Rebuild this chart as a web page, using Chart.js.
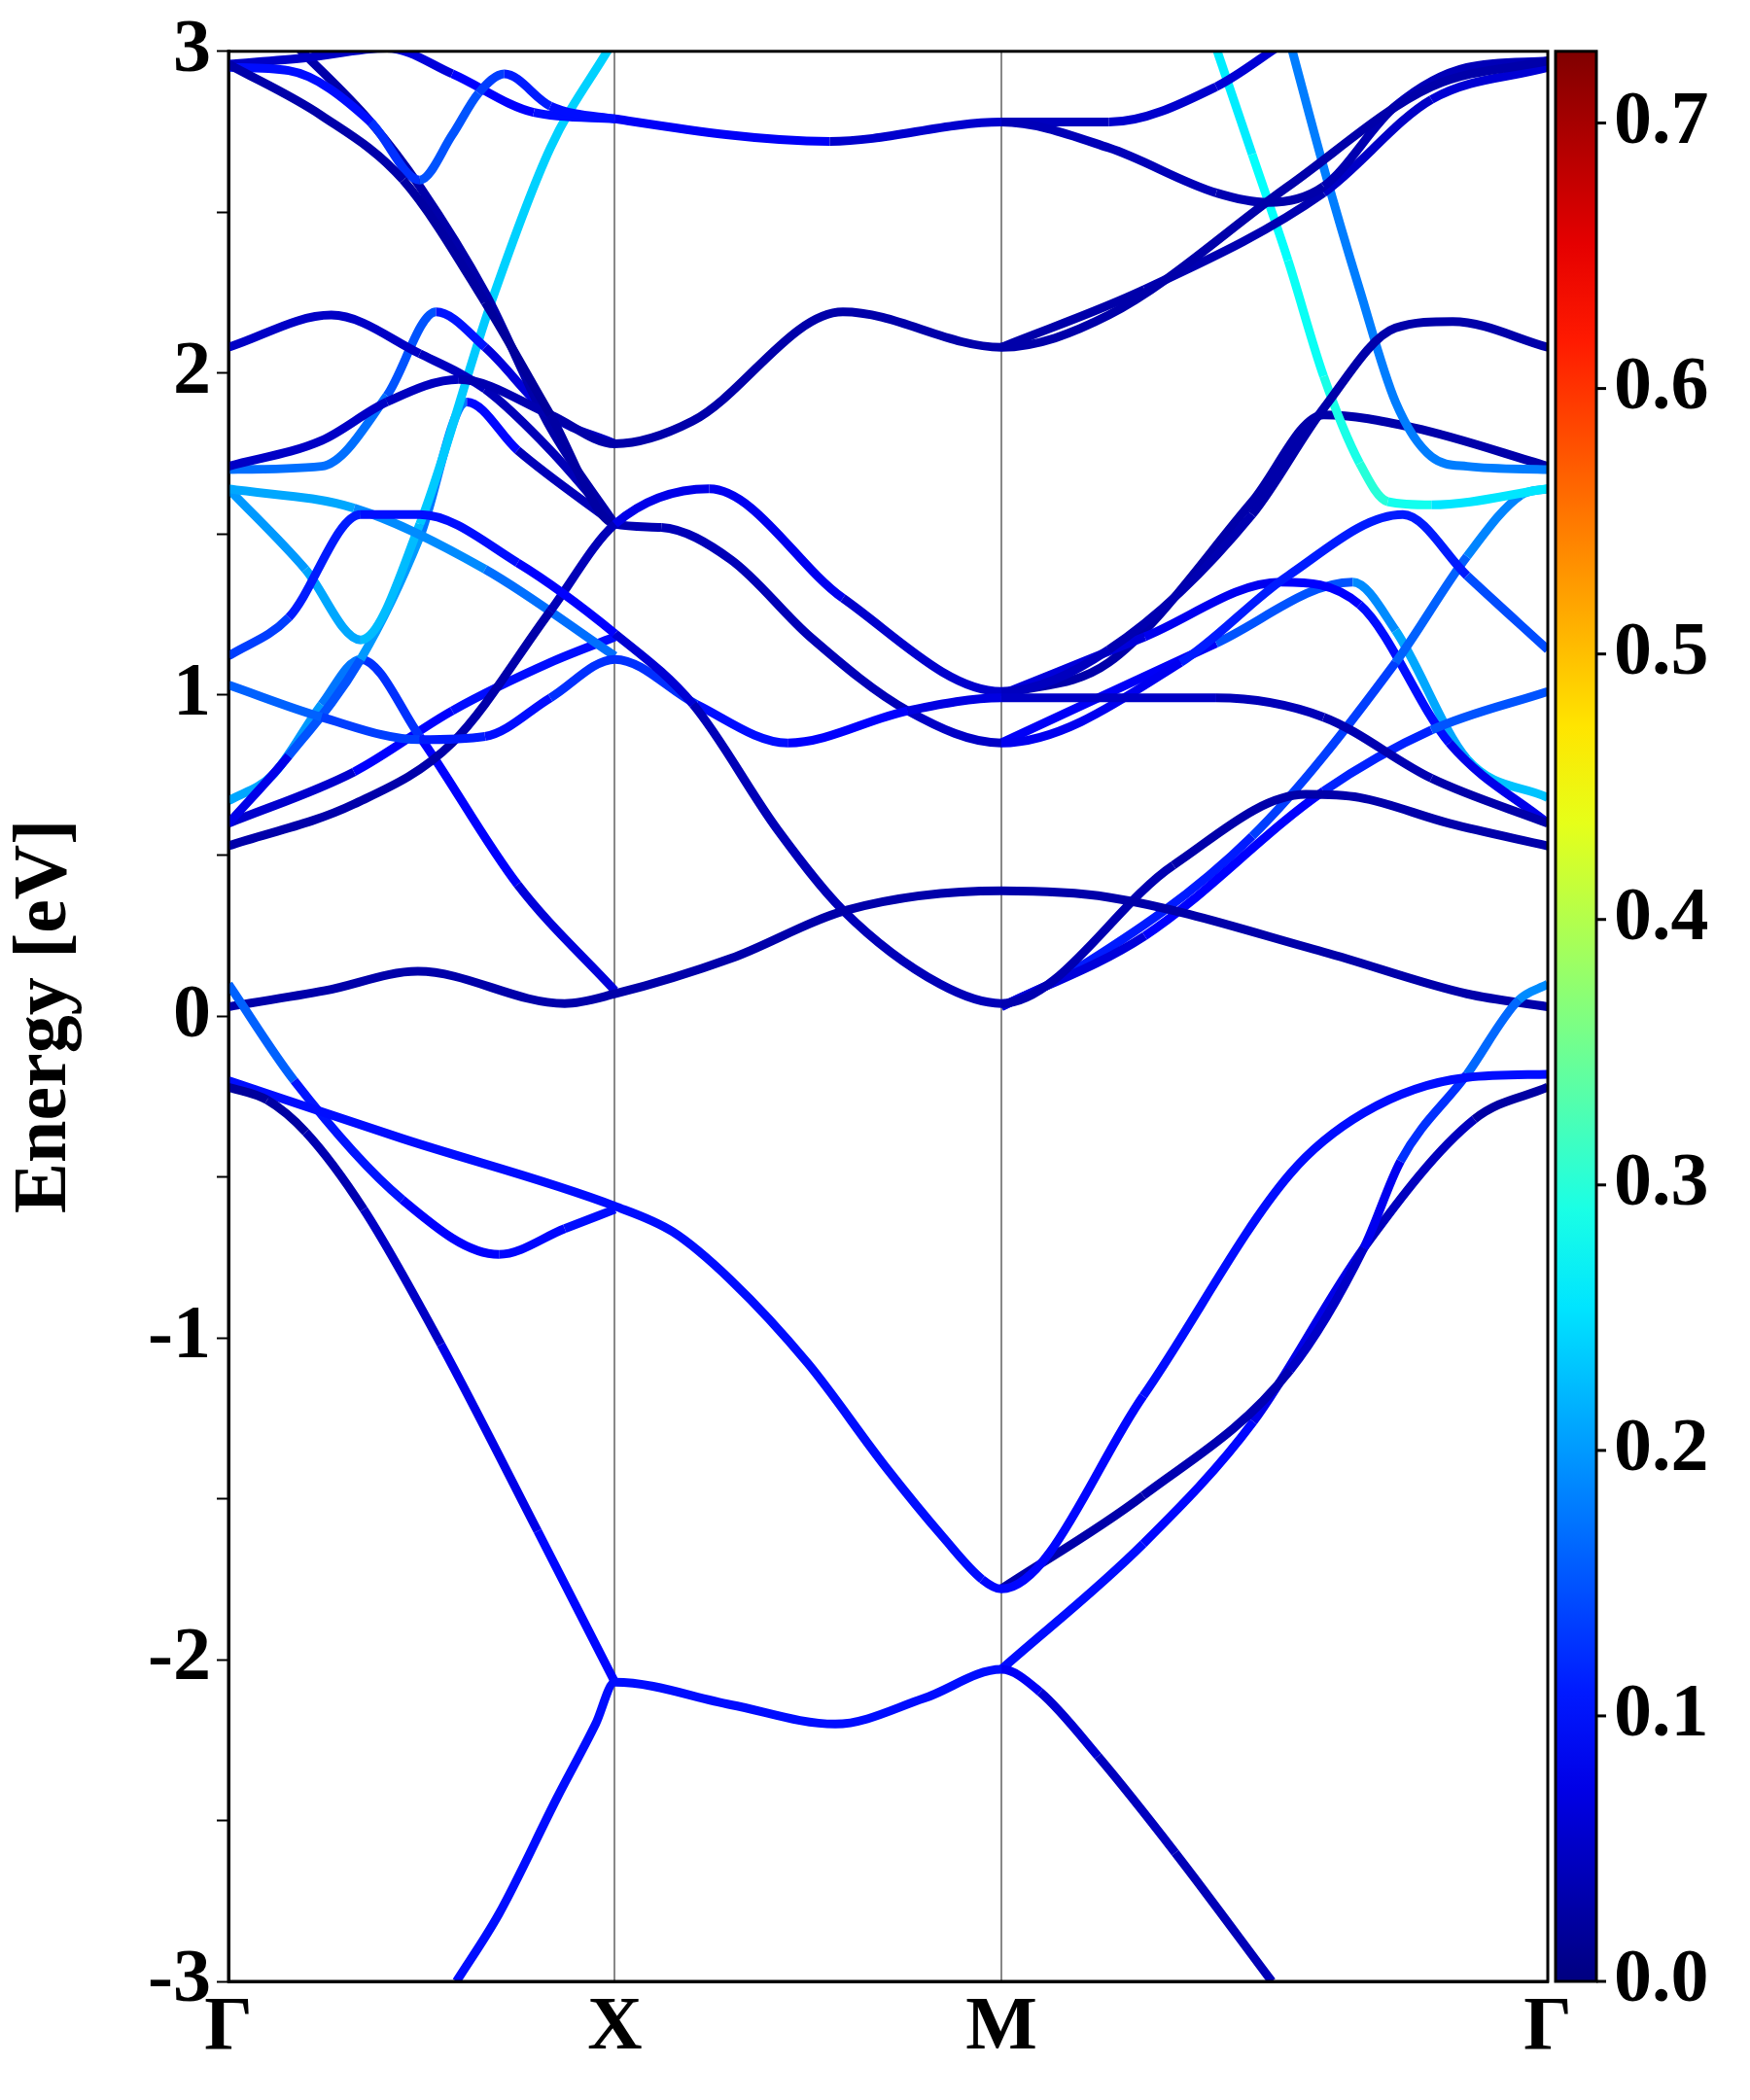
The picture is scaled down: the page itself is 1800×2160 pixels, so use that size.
<!DOCTYPE html>
<html>
<head>
<meta charset="utf-8">
<script src="https://cdn.jsdelivr.net/npm/chart.js@4.4.1/dist/chart.umd.min.js"></script>
<style>
  body { margin: 0; background: #fff; }
  #wrap { width: 1800px; height: 2160px; }
</style>
</head>
<body>
<div id="wrap"><canvas id="chart" width="1800" height="2160"></canvas></div>
<script>
'use strict';

// high-symmetry path
const kTicks = [0, 1, 2, 3.414];
const kLabels = ['Γ', 'X', 'M', 'Γ'];
const cbTicks = [0.0, 0.1, 0.2, 0.3, 0.4, 0.5, 0.6, 0.7];
const wMax = 0.727;

// bands as [k, energy (eV), weight]
const lo1 = [[0.59,-3,.1],[0.7,-2.79,.1],[0.85,-2.43,.1],[0.95,-2.2,.1],[1,-2.07,.1],[1.3,-2.14,.1],[1.57,-2.2,.1],[1.8,-2.12,.1],[2,-2.03,.1],[2.1,-2.1,.07],[2.25,-2.3,.05],[2.45,-2.6,.04],[2.7,-3,.04]];
const lo2 = [[0,-0.22,.02],[0.1,-0.26,.02],[0.2,-0.36,.03],[0.35,-0.6,.04],[0.55,-1.02,.06],[0.8,-1.6,.09],[1,-2.07,.1]];
const lo3 = [[0,-0.2,.1],[0.45,-0.38,.1],[1,-0.59,.1],[1.15,-0.67,.1],[1.3,-0.82,.1],[1.5,-1.08,.1],[1.7,-1.4,.1],[1.85,-1.62,.1],[1.95,-1.75,.1],[2,-1.78,.09],[2.367,-1.18,.1],[2.747,-0.49,.1],[2.938,-0.3,.1],[3.205,-0.19,.1],[3.414,-0.18,.1]];
const lo4 = [[0,0.1,.2],[0.17,-0.2,.12],[0.45,-0.57,.09],[0.7,-0.74,.09],[0.87,-0.66,.1],[1,-0.6,.1]];
const lo5 = [[2,-1.78,.03],[2.367,-1.49,.03],[2.747,-1.1,.04],[2.938,-0.72,.06],[3.033,-0.45,.1],[3.205,-0.18,.15],[3.338,0.05,.18],[3.414,0.1,.2]];
const lo6 = [[2,-2.03,.1],[2.367,-1.64,.1],[2.652,-1.26,.09],[2.938,-0.72,.06],[3.224,-0.32,.03],[3.414,-0.22,.02]];
const b0 = [[0,0.03,.03],[0.25,0.08,.03],[0.49,0.14,.03],[0.87,0.04,.03],[1,0.07,.03],[1.3,0.18,.03],[1.6,0.33,.03],[2,0.39,.03],[2.278,0.37,.03],[2.834,0.2,.03],[3.205,0.07,.03],[3.414,0.03,.03]];
const xm1 = [[0,1.12,.15],[0.156,1.24,.12],[0.342,1.56,.1],[0.495,1.56,.1],[0.748,1.41,.1],[1,1.19,.08],[1.202,0.97,.04],[1.421,0.58,.04],[1.59,0.33,.04],[1.842,0.1,.04],[2,0.04,.04],[2.445,0.47,.03],[2.788,0.69,.03],[2.927,0.68,.03],[3.159,0.6,.03],[3.414,0.53,.03]];
const xm2 = [[0,1.03,.17],[0.241,0.93,.15],[0.495,0.86,.12],[0.664,0.87,.1],[0.833,0.99,.1],[1,1.11,.15],[1.211,0.97,.1],[1.447,0.85,.1],[1.758,0.95,.08],[2,0.99,.06],[2.556,0.99,.04],[2.834,0.93,.04],[3.113,0.74,.03],[3.414,0.6,.03]];
const xm3 = [[0,0.53,.03],[0.325,0.66,.03],[0.579,0.85,.03],[0.833,1.26,.03],[1,1.53,.05],[1.244,1.64,.1],[1.59,1.3,.06],[2,1.01,.05],[2.278,1.14,.04],[2.649,1.56,.03],[2.834,1.89,.03],[3.02,2.14,.03],[3.168,2.16,.03],[3.414,2.08,.03]];
const xm4 = [[0,2.96,.03],[0.241,2.8,.03],[0.452,2.6,.03],[0.664,2.22,.02],[0.833,1.87,.02],[1,1.53,.03],[1.12,1.52,.04],[1.3,1.42,.04],[1.505,1.18,.04],[1.758,0.95,.04],[2,0.85,.06],[2.464,1.1,.1],[2.742,1.37,.12],[3.039,1.56,.1],[3.205,1.37,.12],[3.414,1.14,.17]];
const xm5 = [[0,1.71,.05],[0.241,1.79,.05],[0.41,1.91,.05],[0.596,1.98,.04],[0.833,1.87,.03],[1,1.78,.03],[1.2,1.85,.03],[1.59,2.19,.03],[2,2.08,.03],[2.278,2.18,.03],[2.742,2.58,.03],[3.113,2.89,.03],[3.414,2.97,.03]];
const xm6 = [[0,2.95,.1],[0.156,2.94,.1],[0.368,2.78,.1],[0.495,2.6,.15],[0.579,2.74,.15],[0.647,2.87,.15],[0.714,2.93,.12],[0.833,2.83,.1],[1,2.79,.1],[1.556,2.72,.07],[2,2.78,.04],[2.278,2.7,.04],[2.556,2.56,.04],[2.69,2.53,.03],[2.834,2.58,.03],[3.02,2.83,.04],[3.205,2.95,.04],[3.414,2.97,.04]];
const xm7 = [[2,2.78,.04],[2.278,2.78,.05],[2.556,2.89,.06],[2.723,3.02,.06]];
const a3 = [[0,2.96,.05],[0.199,2.98,.05],[0.41,3.01,.05],[0.579,2.93,.08],[0.79,2.81,.1],[1,2.79,.1]];
const a4 = [[0.173,3.02,.03],[0.368,2.78,.03],[0.495,2.58,.03],[0.664,2.25,.03],[0.833,1.83,.03],[1,1.53,.03]];
const t2 = [[2,2.08,.03],[2.371,2.26,.03],[2.834,2.56,.04],[3.113,2.85,.06],[3.414,2.95,.06]];
const g208 = [[0,2.08,.05],[0.266,2.18,.05],[0.495,2.06,.05],[0.664,1.95,.04],[0.833,1.76,.04],[1,1.53,.04]];
const g170 = [[0,1.7,.17],[0.241,1.71,.17],[0.41,1.93,.17],[0.537,2.19,.13],[0.664,2.08,.08],[0.833,1.87,.05],[1,1.78,.04]];
const g164 = [[0,1.64,.22],[0.325,1.58,.2],[0.664,1.39,.18],[1,1.12,.16]];
const cyanA = [[0,1.64,.2],[0.199,1.39,.2],[0.342,1.17,.22],[0.495,1.53,.23],[0.68,2.22,.24],[0.833,2.7,.24],[0.985,3.01,.24]];
const pk = [[0,0.6,.05],[0.156,0.81,.1],[0.342,1.11,.2],[0.495,1.49,.2],[0.617,1.91,.15],[0.748,1.76,.04],[1,1.53,.04]];
const p1 = [[0,0.67,.22],[0.114,0.75,.2],[0.241,0.97,.2],[0.342,1.11,.15],[0.495,0.87,.1],[0.748,0.41,.08],[1,0.08,.05]];
const p5 = [[0,0.6,.03],[0.325,0.76,.08],[0.579,0.95,.1],[0.833,1.1,.1],[1,1.18,.1]];
const c1 = [[2.556,3.01,.25],[2.649,2.68,.27],[2.742,2.35,.28],[2.834,1.99,.28],[2.927,1.72,.3],[3.0,1.6,.3],[3.113,1.59,.27],[3.414,1.64,.24]];
const c2 = [[2.751,3.01,.18],[2.834,2.64,.18],[2.927,2.26,.18],[3.02,1.91,.18],[3.113,1.74,.18],[3.205,1.71,.18],[3.414,1.7,.18]];
const m2 = [[2,0.03,.05],[2.371,0.25,.08],[2.834,0.7,.1],[3.113,0.89,.13],[3.414,1.01,.17]];
const m3 = [[2,0.03,.05],[2.185,0.14,.1],[2.649,0.56,.12],[3.02,1.1,.15],[3.205,1.43,.17],[3.344,1.62,.2],[3.414,1.64,.22]];
const h1 = [[2,1.0,.05],[2.371,1.18,.08],[2.723,1.35,.08],[2.927,1.28,.1],[3.159,0.85,.1],[3.414,0.6,.05]];
const h2 = [[2,0.85,.05],[2.556,1.16,.12],[2.909,1.35,.18],[3.02,1.2,.2],[3.205,0.8,.22],[3.414,0.68,.24]];
const n2 = [[2,1.0,.03],[2.278,1.1,.03],[2.649,1.6,.03],[2.834,1.87,.03],[3.066,1.83,.03],[3.414,1.71,.03]];

const bands = [lo1, lo2, lo3, lo4, lo5, lo6, b0, xm1, xm2, xm3, xm4, xm5, xm6, xm7, a3, a4, t2,
  g208, g170, g164, cyanA, pk, p1, p5, c1, c2, m2, m3, h1, h2, n2];

function jet(v) {
  const x = Math.max(0, Math.min(1, v / wMax));
  const c = t => Math.round(255 * Math.max(0, Math.min(1, t)));
  return `rgb(${c(1.5 - Math.abs(4 * x - 3))},${c(1.5 - Math.abs(4 * x - 2))},${c(1.5 - Math.abs(4 * x - 1))})`;
}

const datasets = bands.map(b => ({
  data: b.map(p => ({ x: p[0], y: p[1], w: p[2] })),
  showLine: true,
  borderWidth: 9,
  pointRadius: 0,
  cubicInterpolationMode: 'monotone',
  borderColor: jet(b[0][2]),
  segment: {
    borderColor: ctx => jet((ctx.p0.raw.w + ctx.p1.raw.w) / 2)
  }
}));

const serif = '"Liberation Serif", "Times New Roman", serif';
const font = { family: serif, weight: 'bold', size: 78 };

const colorbar = {
  id: 'colorbar',
  afterDraw(chart) {
    const c = chart.ctx, a = chart.chartArea;
    const x0 = 1600, w = 42;
    const g = c.createLinearGradient(0, a.bottom, 0, a.top);
    for (let i = 0; i <= 20; i++) g.addColorStop(i / 20, jet(wMax * i / 20));
    c.save();
    c.fillStyle = g;
    c.fillRect(x0, a.top, w, a.bottom - a.top);
    c.lineWidth = 3;
    c.strokeStyle = '#000';
    c.strokeRect(x0, a.top, w, a.bottom - a.top);
    c.font = 'bold 78px ' + serif;
    c.fillStyle = '#000';
    c.textBaseline = 'middle';
    cbTicks.forEach(t => {
      const y = a.bottom - (a.bottom - a.top) * t / wMax;
      c.beginPath(); c.moveTo(x0 + w, y); c.lineTo(x0 + w + 10, y); c.stroke();
      c.fillText(t.toFixed(1), x0 + w + 18, y);
    });
    c.restore();
  }
};

const frame = {
  id: 'frame',
  afterDraw(chart) {
    const c = chart.ctx, a = chart.chartArea;
    c.save(); c.lineWidth = 3; c.strokeStyle = '#000';
    c.strokeRect(a.left, a.top, a.right - a.left, a.bottom - a.top);
    c.restore();
  }
};

new Chart(document.getElementById('chart'), {
  type: 'scatter',
  data: { datasets },
  plugins: [colorbar, frame],
  options: {
    responsive: false,
    animation: false,
    events: [],
    layout: { padding: { left: 0, right: 208, top: 48, bottom: 0 } },
    plugins: { legend: { display: false }, tooltip: { enabled: false } },
    scales: {
      x: {
        type: 'linear', min: 0, max: 3.414,
        afterBuildTicks: s => { s.ticks = kTicks.map(v => ({ value: v })); },
        afterFit: s => { s.height = 122; },
        ticks: { callback: (v, i) => kLabels[i], font, color: '#000', padding: 2, maxRotation: 0, autoSkip: false },
        grid: {
          color: ctx => (ctx.index === 1 || ctx.index === 2) ? '#888' : 'rgba(0,0,0,0)',
          lineWidth: 2, drawTicks: false
        },
        border: { color: '#000', width: 3 }
      },
      y: {
        min: -3, max: 3,
        afterFit: s => { s.width = 235; },
        ticks: { stepSize: 0.5, callback: v => Number.isInteger(v) ? v : '', font, color: '#000', padding: 6 },
        grid: { display: true, drawOnChartArea: false, tickLength: 12, tickWidth: 2, tickColor: '#000' },
        border: { color: '#000', width: 3 },
        title: { display: true, text: 'Energy [eV]', font, color: '#000', padding: 0 }
      }
    }
  }
});
</script>
</body>
</html>
